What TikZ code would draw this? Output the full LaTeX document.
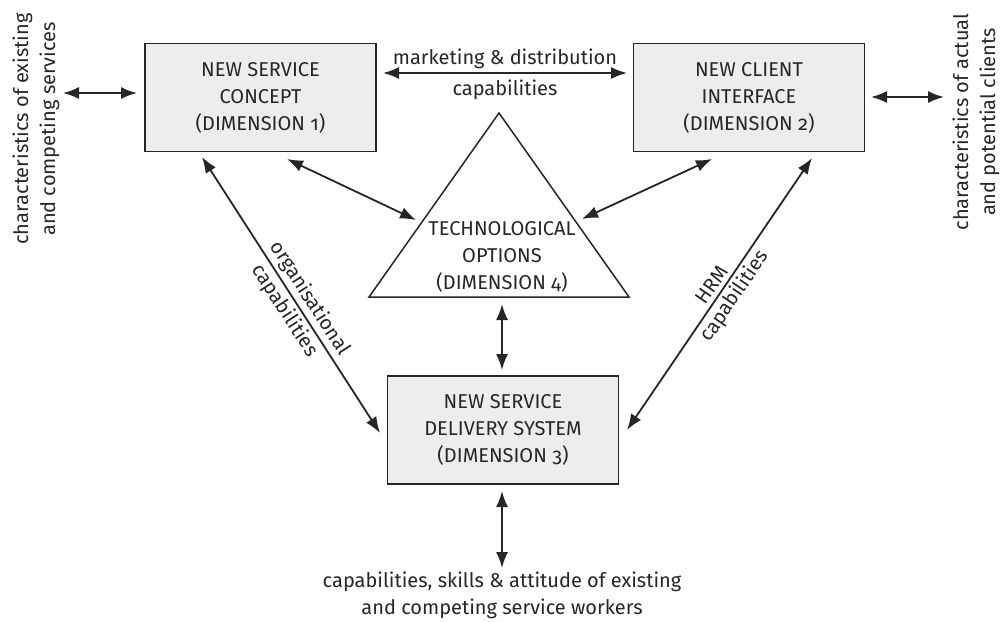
\documentclass[tikz,border=0pt]{standalone}
\usepackage{fontspec}
\setmainfont{Fira Sans}[Numbers=OldStyle]
\usetikzlibrary{arrows.meta}
\begin{document}
\begin{tikzpicture}[x=1pt,y=-1pt,
  every node/.style={font=\fontsize{20}{27}\selectfont, text=black!85},
  dimbox/.style={draw=black!85, line width=1.8pt, fill=black!7, minimum width=231pt, minimum height=108pt, align=center, inner sep=0pt},
  arr/.style={line width=1.8pt, draw=black!85, {Latex[length=16pt,width=12pt]}-{Latex[length=16pt,width=12pt]}},
  lbl/.style={align=center, inner sep=0pt}]
\useasboundingbox (0,0) rectangle (1003,621);
% boxes
\node[dimbox] (b1) at (260.5,97.5) {NEW SERVICE\\CONCEPT\\(DIMENSION 1)};
\node[dimbox] (b2) at (749,97.5) {NEW CLIENT\\INTERFACE\\(DIMENSION 2)};
\node[dimbox] (b3) at (503,430) {NEW SERVICE\\DELIVERY SYSTEM\\(DIMENSION 3)};
% triangle
\coordinate (tA) at (499,113);
\coordinate (tBL) at (369,297);
\coordinate (tBR) at (629,297);
\draw[line width=1.5pt, draw=black!85, line join=miter] (tA) -- (tBR) -- (tBL) -- cycle;
\node[lbl] (tech) at (502,257) {TECHNOLOGICAL\\OPTIONS\\(DIMENSION 4)};
% side labels
\node[lbl, rotate=90] (left) at (36,129) {characteristics of existing\\and competing services};
\node[lbl, rotate=90] (right) at (976,122) {characteristics of actual\\and potential clients};
\node[lbl] (bottom) at (502,595) {capabilities, skills \& attitude of existing\\and competing service workers};
% arrow end points
\coordinate (l1) at (63,93);   \coordinate (l2) at (137,93);
\coordinate (r1) at (871,97);  \coordinate (r2) at (944,97);
\coordinate (m1) at (383,73);  \coordinate (m2) at (627,73);
\coordinate (a1) at (287,159); \coordinate (a2) at (416,220);
\coordinate (c1) at (712,159); \coordinate (c2) at (582,219);
\coordinate (o1) at (202,157); \coordinate (o2) at (380,433);
\coordinate (h1) at (812,158); \coordinate (h2) at (627,430);
\coordinate (v1) at (502,304); \coordinate (v2) at (502,370);
\coordinate (w1) at (502,491); \coordinate (w2) at (502,568);
% connectors
\draw[arr] (l1) -- (l2);
\draw[arr] (r1) -- (r2);
\draw[arr] (m1) -- node[lbl, above=3pt] (mkt1) {marketing \& distribution}
                   node[lbl, below=6pt] (mkt2) {capabilities} (m2);
\draw[arr] (o1) -- node[lbl, sloped, above=3pt, pos=0.54] (org1) {organisational}
                   node[lbl, sloped, below=3pt, pos=0.53] (org2) {capabilities} (o2);
\draw[arr] (h2) -- node[lbl, sloped, above=4pt, pos=0.51] (hrm1) {HRM}
                   node[lbl, sloped, below=3pt, pos=0.52] (hrm2) {capabilities} (h1);
\draw[arr] (a1) -- (a2);
\draw[arr] (c1) -- (c2);
\draw[arr] (v1) -- (v2);
\draw[arr] (w1) -- (w2);
\end{tikzpicture}
\end{document}
